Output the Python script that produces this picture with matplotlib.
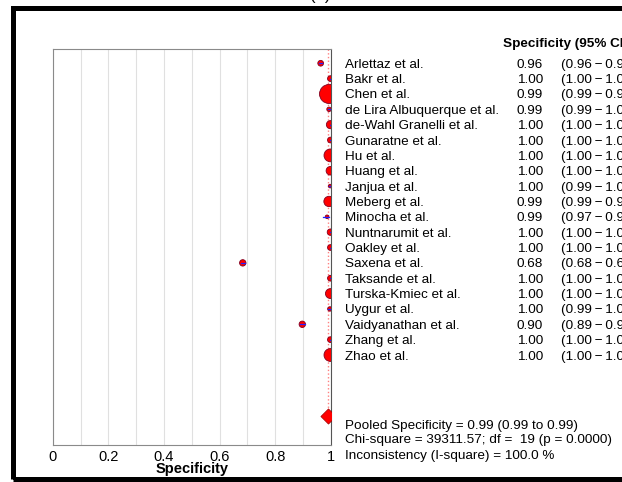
import matplotlib.pyplot as plt
import matplotlib.transforms as mtransforms
from matplotlib.patches import Rectangle

plt.rcParams['font.family'] = ['Liberation Sans', 'DejaVu Sans']

studies = ["Arlettaz et al.", "Bakr et al.", "Chen et al.", "de Lira Albuquerque et al.",
           "de-Wahl Granelli et al.", "Gunaratne et al.", "Hu et al.", "Huang et al.",
           "Janjua et al.", "Meberg et al.", "Minocha et al.", "Nuntnarumit et al.",
           "Oakley et al.", "Saxena et al.", "Taksande et al.", "Turska-Kmiec et al.",
           "Uygur et al.", "Vaidyanathan et al.", "Zhang et al.", "Zhao et al."]
spec = [0.963, 0.998, 0.993, 0.993, 0.998, 0.998, 0.998, 0.998, 0.997, 0.993,
        0.986, 0.998, 0.998, 0.683, 0.998, 0.998, 0.996, 0.897, 0.998, 0.998]
lo = [0.958, 0.997, 0.992, 0.990, 0.997, 0.996, 0.998, 0.997, 0.994, 0.992,
      0.972, 0.996, 0.996, 0.678, 0.996, 0.997, 0.991, 0.889, 0.996, 0.998]
hi = [0.967, 0.999, 0.993, 0.996, 0.999, 0.999, 0.998, 0.998, 0.998, 0.993,
      0.992, 0.999, 0.999, 0.690, 0.999, 0.998, 0.998, 0.905, 0.999, 0.998]
weights = [2.0, 2.0, 22.0, 1.2, 4.0, 2.0, 10.0, 4.5, 0.8, 6.5,
           0.8, 2.5, 2.0, 2.5, 2.0, 6.0, 1.2, 2.5, 2.0, 10.0]
pooled = 0.99
pooled_lo = 0.99
pooled_hi = 0.99
chi_sq = 39311.57
df = 19
p_val = 0.0
i_sq = 100.0

fig = plt.figure(figsize=(6.22, 4.82), dpi=100)
ax = fig.add_axes([0.0847, 0.0768, 0.4474, 0.8216])

rows = list(range(len(studies)))
pooled_row = 23

ax.set_xlim(0, 1)
ax.set_ylim(24.86, -0.93)
ax.set_xticks([0, 0.2, 0.4, 0.6, 0.8, 1])
ax.set_xticklabels(["0", "0.2", "0.4", "0.6", "0.8", "1"], fontsize=10.5)
ax.set_xticks([i / 10 for i in range(1, 10)], minor=True)
ax.tick_params(axis='x', which='both', length=0, pad=3.5)
ax.set_yticks([])
ax.grid(axis='x', which='both', color='#e0e0e0', linewidth=0.8)
ax.set_axisbelow(True)
for side in ['left', 'top', 'bottom']:
    ax.spines[side].set_color('#8a8a8a')
ax.spines['right'].set_color('#555555')
ax.set_xlabel("Specificity", fontsize=10.5, fontweight='bold', labelpad=-1)

# pooled reference line
ax.plot([pooled, pooled], [-0.93, pooled_row], color='#ff8080', linestyle=':', linewidth=1.0, zorder=2)

ax.scatter(spec, rows, s=[w * 8.5 for w in weights], color='#ff0000',
           edgecolor='#800020', linewidth=0.6, zorder=3)
for r, a, b in zip(rows, lo, hi):
    ax.plot([a, b], [r, r], color='#2020ff', linewidth=0.9, zorder=4)

ax.scatter([pooled], [pooled_row], marker='D', s=60, color='#ff0000',
           edgecolor='#a00000', linewidth=0.5, zorder=4)

# right-hand text columns
tr = mtransforms.blended_transform_factory(fig.transFigure, ax.transData)
fs = 9.7
va = 'center_baseline'
ax.text(0.8087, -1.32, "Specificity (95% CI)", transform=tr, fontsize=fs,
        fontweight='bold', va=va, ha='left', clip_on=False)
for r, name, s, a, b in zip(rows, studies, spec, lo, hi):
    ax.text(0.5547, r, name, transform=tr, fontsize=fs, va=va, ha='left', clip_on=False)
    ax.text(0.873, r, f"{s:.2f}", transform=tr, fontsize=fs, va=va, ha='right', clip_on=False)
    ax.text(0.902, r, f"({a:.2f}\u2009\u2212\u2009{b:.2f})", transform=tr, fontsize=fs,
            va=va, ha='left', clip_on=False)

summary = [
    f"Pooled Specificity = {pooled:.2f} ({pooled_lo:.2f} to {pooled_hi:.2f})",
    f"Chi-square = {chi_sq:.2f}; df =  {df} (p = {p_val:.4f})",
    f"Inconsistency (I-square) = {i_sq:.1f} %",
]
for r, line in zip([23.5, 24.43, 25.45], summary):
    ax.text(0.5547, r, line, transform=tr, fontsize=fs, va=va, ha='left', clip_on=False)

# panel border and label
fig.patches.append(Rectangle((0.0201, 0.0052), 1.1, 0.9772, transform=fig.transFigure,
                             fill=False, edgecolor='black', linewidth=3.6))
fig.text(0.515, 1.0, "(b)", fontsize=12, ha='center', va='baseline')

fig.savefig("out.png", dpi=100)
